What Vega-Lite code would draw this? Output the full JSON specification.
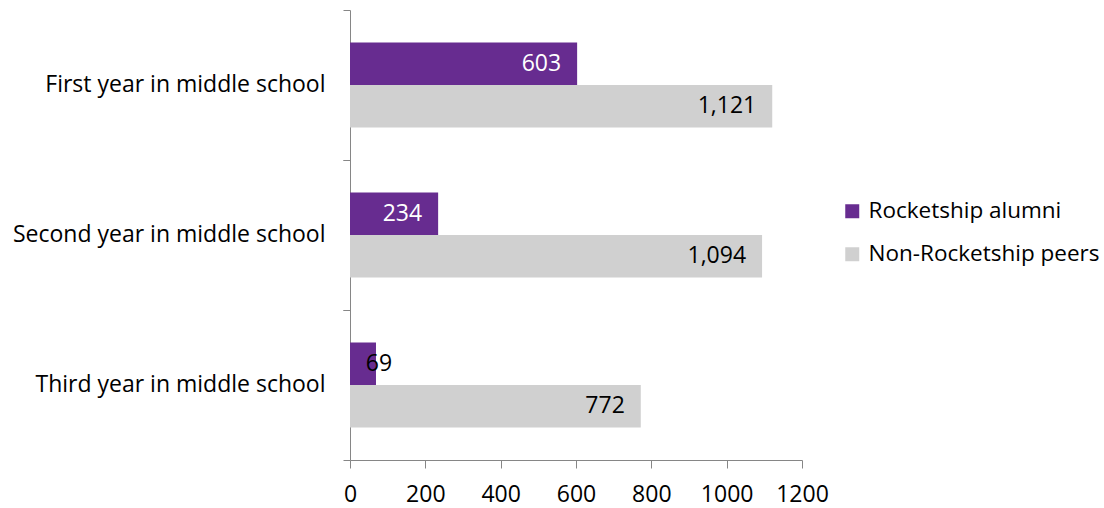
{
  "$schema": "https://vega.github.io/schema/vega-lite/v6.json",
  "width": 452,
  "height": 450,
  "autosize": {"type": "none"},
  "padding": {"left": 350, "top": 10, "right": 302, "bottom": 48},
  "background": "white",
  "config": {
    "view": {"stroke": null},
    "font": "Open Sans",
    "axis": {"domainColor": "#868686", "tickColor": "#868686", "labelColor": "#000000", "grid": false, "title": null}
  },
  "data": {
    "values": [
      {"year": "First year in middle school", "group": "Rocketship alumni", "count": 603},
      {"year": "First year in middle school", "group": "Non-Rocketship peers", "count": 1121},
      {"year": "Second year in middle school", "group": "Rocketship alumni", "count": 234},
      {"year": "Second year in middle school", "group": "Non-Rocketship peers", "count": 1094},
      {"year": "Third year in middle school", "group": "Rocketship alumni", "count": 69},
      {"year": "Third year in middle school", "group": "Non-Rocketship peers", "count": 772}
    ]
  },
  "encoding": {
    "x": {
      "field": "count",
      "type": "quantitative",
      "scale": {"domain": [0, 1200]},
      "axis": {
        "values": [0, 200, 400, 600, 800, 1000, 1200],
        "tickSize": 8,
        "labelFontSize": 23,
        "labelPadding": 15,
        "labelOverlap": false,
        "labelFlush": false,
        "format": "d"
      }
    },
    "yOffset": {
      "field": "group",
      "type": "nominal",
      "sort": ["Rocketship alumni", "Non-Rocketship peers"],
      "scale": {"paddingInner": 0, "paddingOuter": 0.765}
    }
  },
  "layer": [
    {
      "mark": {"type": "bar"},
      "encoding": {
        "y": {
          "field": "year",
          "type": "nominal",
          "sort": ["First year in middle school", "Second year in middle school", "Third year in middle school"],
          "scale": {"paddingInner": 0, "paddingOuter": 0},
          "axis": {"orient": "left", "ticks": false, "domain": true, "labelFontSize": 23, "labelPadding": 25, "labelLimit": 400}
        },
        "color": {
          "field": "group",
          "type": "nominal",
          "sort": ["Rocketship alumni", "Non-Rocketship peers"],
          "scale": {"domain": ["Rocketship alumni", "Non-Rocketship peers"], "range": ["#672C90", "#D0D0D0"]},
          "legend": {
            "orient": "none",
            "legendX": 491,
            "legendY": 190,
            "title": null,
            "symbolType": "square",
            "symbolSize": 196,
            "symbolStrokeWidth": 0,
            "labelFontSize": 22.5,
            "labelColor": "#000000",
            "labelLimit": 400,
            "rowPadding": 20,
            "labelOffset": 5
          }
        }
      }
    },
    {
      "transform": [{"filter": "datum.count >= 100"}],
      "mark": {"type": "text", "align": "right", "baseline": "middle", "dx": -16, "fontSize": 23},
      "encoding": {
        "y": {
          "field": "year",
          "type": "nominal",
          "sort": ["First year in middle school", "Second year in middle school", "Third year in middle school"],
          "axis": {"orient": "left", "bandPosition": 0, "labels": false, "domain": false, "ticks": true, "tickSize": 7}
        },
        "text": {"field": "count", "type": "quantitative", "format": ","},
        "color": {
          "condition": {"test": "datum.group === 'Rocketship alumni'", "value": "#FFFFFF"},
          "value": "#000000"
        }
      }
    },
    {
      "transform": [{"filter": "datum.count < 100"}],
      "mark": {"type": "text", "align": "center", "baseline": "middle", "dx": 3, "fontSize": 23, "color": "#000000"},
      "encoding": {
        "y": {
          "field": "year",
          "type": "nominal",
          "sort": ["First year in middle school", "Second year in middle school", "Third year in middle school"],
          "axis": {"orient": "left", "bandPosition": 1, "labels": false, "domain": false, "ticks": true, "tickSize": 7}
        },
        "text": {"field": "count", "type": "quantitative", "format": ","}
      }
    }
  ],
  "resolve": {"axis": {"y": "independent"}}
}
